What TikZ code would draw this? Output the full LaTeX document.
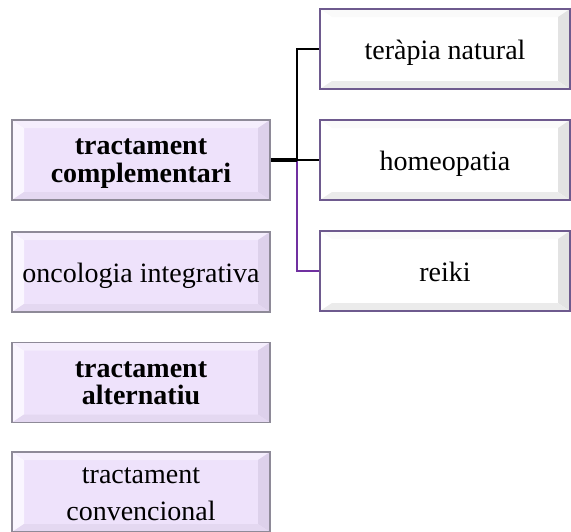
\documentclass[tikz,border=0pt]{standalone}
\usepackage{fontspec}
\setmainfont{Liberation Serif}
\usetikzlibrary{calc}

\definecolor{lfill}{HTML}{EEE2FB}
\definecolor{ltop}{HTML}{F5EEFD}
\definecolor{lleft}{HTML}{FAF6FF}
\definecolor{lright}{HTML}{DDD1EB}
\definecolor{lbottom}{HTML}{E4D8F1}
\definecolor{lborder}{HTML}{8E8A98}
\definecolor{rtop}{HTML}{FAFAFA}
\definecolor{rleft}{HTML}{FFFFFF}
\definecolor{rright}{HTML}{E3E3E3}
\definecolor{rbottom}{HTML}{EBEBEB}
\definecolor{rborder}{HTML}{6E5A8E}
\definecolor{branchpurple}{HTML}{7030A0}

% bevelled rectangle: four light/dark side facets around a flat centre
\newcommand{\bevelfacets}[4]{%
  \coordinate (bvnw) at (path picture bounding box.north west);
  \coordinate (bvne) at (path picture bounding box.north east);
  \coordinate (bvsw) at (path picture bounding box.south west);
  \coordinate (bvse) at (path picture bounding box.south east);
  \coordinate (bvinw) at ($(bvnw)+(12pt,-8pt)$);
  \coordinate (bvine) at ($(bvne)+(-12pt,-8pt)$);
  \coordinate (bvisw) at ($(bvsw)+(12pt,8pt)$);
  \coordinate (bvise) at ($(bvse)+(-12pt,8pt)$);
  \fill[#1] (bvnw) -- (bvne) -- (bvine) -- (bvinw) -- cycle;
  \fill[#2] (bvnw) -- (bvinw) -- (bvisw) -- (bvsw) -- cycle;
  \fill[#3] (bvne) -- (bvse) -- (bvise) -- (bvine) -- cycle;
  \fill[#4] (bvsw) -- (bvisw) -- (bvise) -- (bvse) -- cycle;
}

% centred lines of text, set a little below the box centre
\newcommand{\boxtext}[1]{%
  \raisebox{-3pt}[\height][\depth]{\begin{tabular}{@{}c@{}}#1\end{tabular}}}

\tikzset{
  lbox/.style={draw=lborder, line width=1.3pt, fill=lfill,
    minimum width=258pt, minimum height=80pt, inner sep=0pt,
    font=\fontsize{28}{37}\selectfont,
    path picture={\bevelfacets{ltop}{lleft}{lright}{lbottom}}},
  lboldbox/.style={lbox, font=\fontsize{28}{27}\selectfont\bfseries},
  rbox/.style={draw=rborder, line width=2pt, fill=white,
    minimum width=250pt, minimum height=80pt, inner sep=0pt,
    font=\fontsize{28}{37}\selectfont,
    path picture={\bevelfacets{rtop}{rleft}{rright}{rbottom}}},
  trunk/.style={black, line width=3.5pt},
  branch/.style={black, line width=2pt},
  purplebranch/.style={branchpurple, line width=2pt},
}

\begin{document}
\begin{tikzpicture}[x=1pt, y=-1pt]
  \useasboundingbox (0,0) rectangle (571,531);

  % left column
  \node[lboldbox] (comp) at (141,160) {\boxtext{tractament\\complementari}};
  \node[lbox] (onco) at (141,272) {\boxtext{oncologia integrativa}};
  \node[lboldbox] (alt) at (141,382.5) {\boxtext{tractament\\alternatiu}};
  \node[lbox] (conv) at (141,492) {\boxtext{tractament\\convencional}};

  % right column
  \node[rbox] (nat) at (445,49) {\boxtext{teràpia natural}};
  \node[rbox] (hom) at (445,160) {\boxtext{homeopatia}};
  \node[rbox] (rei) at (445,271) {\boxtext{reiki}};

  % connectors
  \coordinate (junc) at ($(comp.east)+(26pt,0)$);
  \draw[purplebranch] (junc) |- (rei.west);
  \draw[branch] (junc) |- (nat.west);
  \draw[branch] (junc) -- (hom.west);
  \draw[trunk] (comp.east) -- (junc);
\end{tikzpicture}
\end{document}
